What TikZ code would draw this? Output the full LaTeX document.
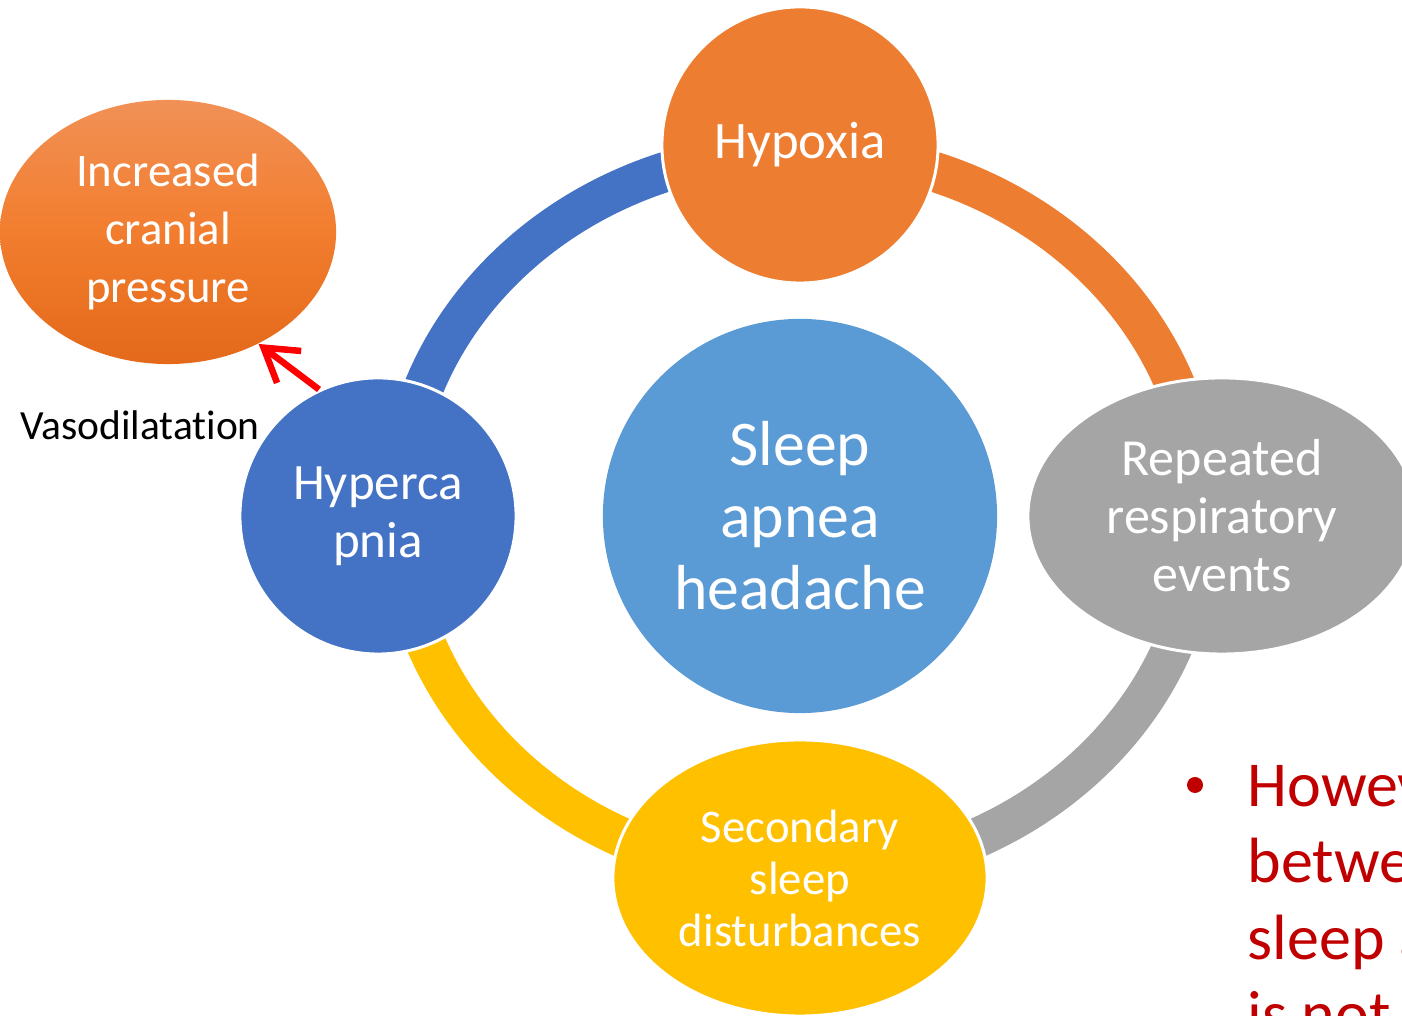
\documentclass[tikz,border=0pt]{standalone}
\usepackage{fontspec}
\setmainfont[Ligatures=NoCommon]{Carlito}
\usetikzlibrary{shapes.geometric,arrows.meta}
\definecolor{cblue}{HTML}{4472C4}
\definecolor{corange}{HTML}{ED7D31}
\definecolor{cgray}{HTML}{A5A5A5}
\definecolor{cyellow}{HTML}{FFC000}
\definecolor{clight}{HTML}{5B9BD5}
\definecolor{cred}{HTML}{C00000}
\definecolor{gtop}{HTML}{F19156}
\definecolor{gmid}{HTML}{F27D2E}
\definecolor{gbot}{HTML}{E4691A}
\begin{document}
\begin{tikzpicture}[x=0.01cm,y=0.01cm,
  ring/.style={line width=0.4cm},
  cnode/.style={circle, fill=#1, draw=white, line width=0.03cm, text=white, inner sep=0pt, minimum size=2.76cm, align=center},
  enode/.style={ellipse, fill=#1, draw=white, line width=0.03cm, text=white, inner sep=0pt, minimum height=2.76cm, align=center},
  redtxt/.style={text=cred, inner sep=0pt, font=\fontsize{18.2pt}{21.6pt}\selectfont},
  redarrow/.style={draw=red, line width=0.065cm, -{Straight Barb[length=0.32cm,width=0.4cm]}}]
\useasboundingbox (0,0) rectangle (1402,1016);
\clip (0,0) rectangle (1402,1016);
% ring segments
\coordinate (rc) at (800,503);
\draw[ring, cblue] (rc) ++(180:401 and 362) arc[start angle=180, end angle=90, x radius=401, y radius=362];
\draw[ring, corange] (rc) ++(90:401 and 362) arc[start angle=90, end angle=0, x radius=401, y radius=362];
\draw[ring, cgray] (rc) ++(0:401 and 362) arc[start angle=0, end angle=-90, x radius=401, y radius=362];
\draw[ring, cyellow] (rc) ++(-90:401 and 362) arc[start angle=-90, end angle=-180, x radius=401, y radius=362];
% nodes
\node[circle, fill=clight, text=white, inner sep=0pt, minimum size=3.94cm, align=center,
      font=\fontsize{18.1pt}{20.5pt}\selectfont] (sah) at (800,500) {Sleep\\apnea\\headache};
\node[cnode=corange, font=\fontsize{15pt}{17pt}\selectfont] (hyx) at (800,871) {Hypoxia};
\node[cnode=cblue, font=\fontsize{14.5pt}{16.5pt}\selectfont] (hyc) at (378,500) {Hyperca\\pnia};
\node[enode=cgray, minimum width=3.88cm, font=\fontsize{14.8pt}{16.5pt}\selectfont] (rre) at (1222,500) {Repeated\\respiratory\\events};
\node[enode=cyellow, minimum width=3.74cm, font=\fontsize{13.3pt}{14.8pt}\selectfont] (ssd) at (800,138) {Secondary\\sleep\\disturbances};
\node[ellipse, top color=gtop, bottom color=gbot, middle color=gmid, text=white, inner sep=0pt,
      minimum width=3.36cm, minimum height=2.64cm, align=center,
      font=\fontsize{13.3pt}{16.5pt}\selectfont] (icp) at (168,784) {Increased\\cranial\\pressure};
\node[inner sep=0pt, font=\fontsize{11.8pt}{13pt}\selectfont] (vaso) at (140,591) {Vasodilatation};
\draw[redarrow] (hyc.115) -- (icp.-51);
% red bullet text
\node[circle, fill=cred, inner sep=0pt, minimum size=0.16cm] (bul) at (1195,231) {};
\node[redtxt, anchor=base west] (r1) at (1247,209) {However,};
\node[redtxt, anchor=base west] (r2) at (1247,133) {between};
\node[redtxt, anchor=base west] (r3) at (1247,56) {sleep apnea};
\node[redtxt, anchor=base west] (r4) at (1247,-20) {is not};
\end{tikzpicture}
\end{document}
